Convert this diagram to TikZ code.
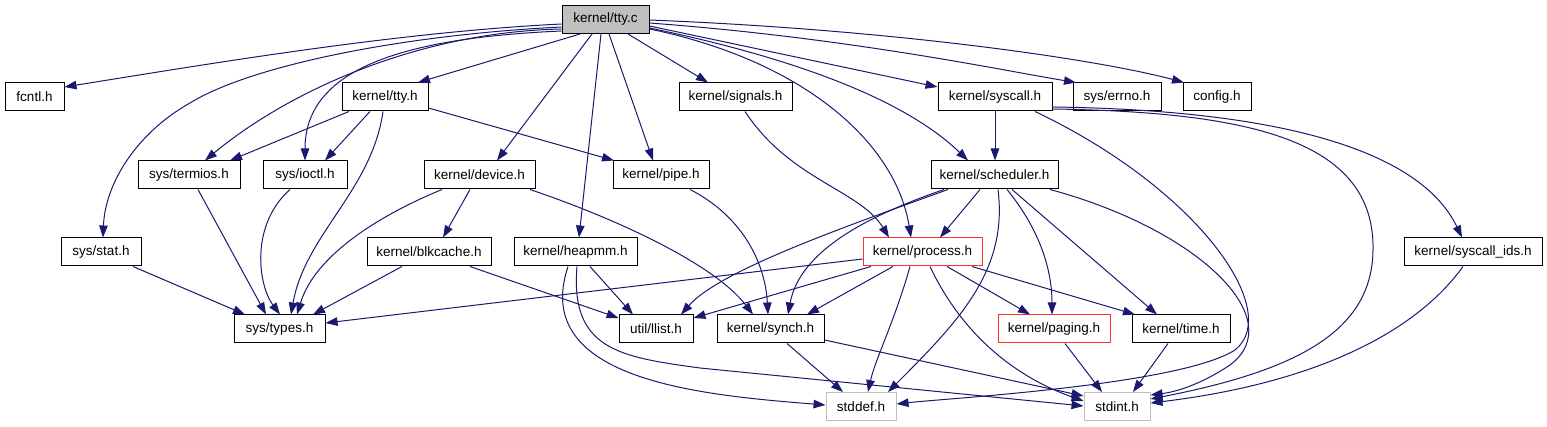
\documentclass[tikz,border=0pt]{standalone}
\usepackage{fontspec}
\setmainfont{Liberation Sans}
\usetikzlibrary{arrows.meta}
\definecolor{edgecol}{HTML}{191970}
\definecolor{grayfill}{HTML}{BFBFBF}
\definecolor{trunc}{HTML}{FF3030}
\begin{document}
\begin{tikzpicture}[x=1pt,y=-1pt,
  nbox/.style={draw=black, line width=1pt, fill=white, minimum height=28pt, inner sep=0pt,
    font=\fontsize{13.5}{15}\selectfont},
  edg/.style={draw=edgecol, line width=1pt, -{Triangle[length=12pt,width=8.5pt]}},
]
\useasboundingbox (0,0) rectangle (1547,427);
% row 0
\node[nbox,minimum width=87pt,fill=grayfill] (tty) at (605.5,19.5) {kernel/tty.c};
% row 1
\node[nbox,minimum width=59pt] (fcntl) at (34.5,97) {fcntl.h};
\node[nbox,minimum width=86pt] (ttyh) at (385,97) {kernel/tty.h};
\node[nbox,minimum width=113pt] (signals) at (735.5,97) {kernel/signals.h};
\node[nbox,minimum width=114pt] (syscall) at (995,97) {kernel/syscall.h};
\node[nbox,minimum width=88pt] (errno) at (1117,97) {sys/errno.h};
\node[nbox,minimum width=68pt] (config) at (1217,97) {config.h};
% row 2
\node[nbox,minimum width=102pt] (termios) at (189,175) {sys/termios.h};
\node[nbox,minimum width=84pt] (ioctl) at (305,175) {sys/ioctl.h};
\node[nbox,minimum width=111pt] (device) at (479.5,175) {kernel/device.h};
\node[nbox,minimum width=96pt] (pipe) at (661,175) {kernel/pipe.h};
\node[nbox,minimum width=127pt] (sched) at (994.5,175) {kernel/scheduler.h};
% row 3
\node[nbox,minimum width=80pt] (stat) at (101,252) {sys/stat.h};
\node[nbox,minimum width=124pt] (blk) at (429,252) {kernel/blkcache.h};
\node[nbox,minimum width=123pt] (heap) at (575.5,252) {kernel/heapmm.h};
\node[nbox,minimum width=119pt,draw=trunc] (proc) at (922.5,252) {kernel/process.h};
\node[nbox,minimum width=138pt] (sysids) at (1473,252) {kernel/syscall\_ids.h};
% row 4
\node[nbox,minimum width=91pt] (types) at (279.5,329) {sys/types.h};
\node[nbox,minimum width=74pt] (llist) at (656,329) {util/llist.h};
\node[nbox,minimum width=107pt] (synch) at (770.5,329) {kernel/synch.h};
\node[nbox,minimum width=112pt,draw=trunc] (paging) at (1054,329) {kernel/paging.h};
\node[nbox,minimum width=98pt] (time) at (1181,329) {kernel/time.h};
% row 5
\node[nbox,minimum width=70pt,draw=grayfill] (stddef) at (861,406.5) {stddef.h};
\node[nbox,minimum width=66pt,draw=grayfill] (stdint) at (1117,406.5) {stdint.h};

% edges from kernel/tty.c
\draw[edg] (tty.west |- 0,24) .. controls (400,32) and (220,62) .. (fcntl.east |- 0,87);
\draw[edg] (tty.west |- 0,27) .. controls (400,35) and (250,66) .. (190,103) .. controls (135,134) and (105,185) .. (103,0 |- stat.north);
\draw[edg] (tty.west |- 0,29) .. controls (420,32) and (290,90) .. (205,0 |- termios.north);
\draw[edg] (tty.west |- 0,31) .. controls (400,38) and (305,70) .. (305,0 |- ioctl.north);
\draw[edg] (580,0 |- tty.south) -- (418,0 |- ttyh.north);
\draw[edg] (592,0 |- tty.south) -- (497,0 |- device.north);
\draw[edg] (601,0 |- tty.south) -- (579,0 |- heap.north);
\draw[edg] (609,0 |- tty.south) -- (653,0 |- pipe.north);
\draw[edg] (628,0 |- tty.south) -- (708,0 |- signals.north);
\draw[edg] (tty.east |- 0,29) .. controls (800,60) and (895,140) .. (911,0 |- proc.north);
\draw[edg] (tty.east |- 0,28) .. controls (780,55) and (900,95) .. (968,0 |- sched.north);
\draw[edg] (tty.east |- 0,26) -- (syscall.west |- 0,87);
\draw[edg] (tty.east |- 0,23) .. controls (850,38) and (1000,70) .. (1076,0 |- errno.north);
\draw[edg] (tty.east |- 0,20) .. controls (900,30) and (1100,60) .. (1184,0 |- config.north);

% kernel/tty.h
\draw[edg] (349,0 |- ttyh.south) -- (230,0 |- termios.north);
\draw[edg] (370,0 |- ttyh.south) -- (325,0 |- ioctl.north);
\draw[edg] (383,0 |- ttyh.south) .. controls (372,190) and (305,235) .. (291,0 |- types.north);
\draw[edg] (ttyh.east |- 0,108) -- (614,0 |- pipe.north);

% kernel/signals.h
\draw[edg] (745,0 |- signals.south) .. controls (790,180) and (860,190) .. (889,0 |- proc.north);

% kernel/syscall.h
\draw[edg] (995,0 |- syscall.south) -- (995,0 |- sched.north);
\draw[edg] (1035,0 |- syscall.south) .. controls (1200,190) and (1283,312) .. (1235,350) .. controls (1180,385) and (950,398) .. (stddef.east |- 0,404);
\draw[edg] (syscall.east |- 0,109) .. controls (1250,112) and (1375,140) .. (1373,250) .. controls (1372,330) and (1300,370) .. (stdint.east |- 0,399);
\draw[edg] (syscall.east |- 0,107) .. controls (1280,110) and (1420,150) .. (1462,0 |- sysids.north);

% kernel/scheduler.h
\draw[edg] (980,0 |- sched.south) -- (940,0 |- proc.north);
\draw[edg] (948,0 |- sched.south) .. controls (850,225) and (720,270) .. (681,0 |- llist.north);
\draw[edg] (944,0 |- sched.south) .. controls (870,215) and (800,250) .. (788,0 |- synch.north);
\draw[edg] (998,0 |- sched.south) .. controls (1008,270) and (960,320) .. (888,0 |- stddef.north);
\draw[edg] (1007,0 |- sched.south) .. controls (1040,230) and (1052,270) .. (1052,0 |- paging.north);
\draw[edg] (1012,0 |- sched.south) -- (1157,0 |- time.north);
\draw[edg] (1050,0 |- sched.south) .. controls (1200,230) and (1290,320) .. (1230,365) .. controls (1200,385) and (1175,392) .. (stdint.east |- 0,395);

% kernel/process.h
\draw[edg] (proc.west |- 0,259) -- (types.east |- 0,323);
\draw[edg] (871,0 |- proc.south) -- (llist.east |- 0,318);
\draw[edg] (893,0 |- proc.south) -- (807,0 |- synch.north);
\draw[edg] (910,0 |- proc.south) .. controls (895,320) and (875,360) .. (868,0 |- stddef.north);
\draw[edg] (930,0 |- proc.south) .. controls (960,330) and (1010,375) .. (stdint.west |- 0,401);
\draw[edg] (947,0 |- proc.south) -- (1030,0 |- paging.north);
\draw[edg] (972,0 |- proc.south) -- (1135,0 |- time.north);

% kernel/device.h
\draw[edg] (470,0 |- device.south) -- (443,0 |- blk.north);
\draw[edg] (442,0 |- device.south) .. controls (380,215) and (315,255) .. (297,0 |- types.north);
\draw[edg] (530,0 |- device.south) .. controls (620,220) and (715,265) .. (753,0 |- synch.north);

% kernel/blkcache.h
\draw[edg] (402,0 |- blk.south) -- (313,0 |- types.north);
\draw[edg] (470,0 |- blk.south) -- (llist.west |- 0,318);

% kernel/heapmm.h
\draw[edg] (590,0 |- heap.south) -- (633,0 |- llist.north);
\draw[edg] (568,0 |- heap.south) .. controls (530,380) and (700,395) .. (stddef.west |- 0,405);
\draw[edg] (577,0 |- heap.south) .. controls (570,350) and (620,357) .. (700,368) -- (stdint.west |- 0,406);

% others
\draw[edg] (690,0 |- pipe.south) .. controls (740,215) and (765,260) .. (768,0 |- synch.north);
\draw[edg] (198,0 |- termios.south) -- (266,0 |- types.north);
\draw[edg] (290,0 |- ioctl.south) .. controls (250,225) and (258,285) .. (280,0 |- types.north);
\draw[edg] (133,0 |- stat.south) -- (245,0 |- types.north);
\draw[edg] (787,0 |- synch.south) -- (843,0 |- stddef.north);
\draw[edg] (synch.east |- 0,340) -- (stdint.west |- 0,396);
\draw[edg] (1065,0 |- paging.south) -- (1102,0 |- stdint.north);
\draw[edg] (1168,0 |- time.south) -- (1133,0 |- stdint.north);
\draw[edg] (1463,0 |- sysids.south) .. controls (1410,340) and (1300,385) .. (stdint.east |- 0,403);
\end{tikzpicture}
\end{document}
